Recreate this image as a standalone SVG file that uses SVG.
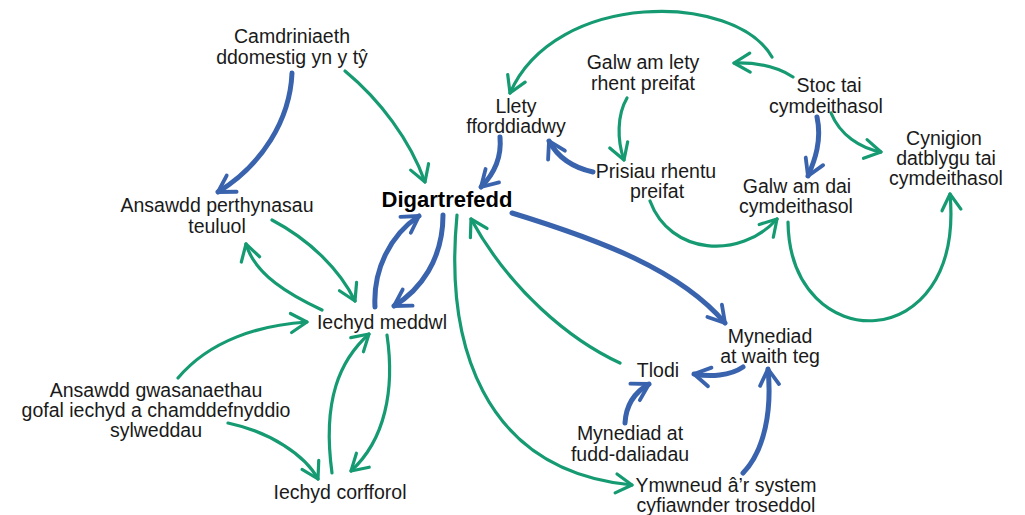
<svg xmlns="http://www.w3.org/2000/svg" width="1025" height="515" viewBox="0 0 1025 515">
<style>
  text { font-family: "Liberation Sans", Arial, sans-serif; font-size: 19.5px; fill: #1a1a1a; text-anchor: middle; }
  .bold { font-weight: bold; font-size: 22px; fill: #000; }
  .g { fill: none; stroke: #159a72; stroke-width: 3.2; stroke-linecap: round; marker-end: url(#ag); }
  .b { fill: none; stroke: #3a63ae; stroke-width: 5; stroke-linecap: round; marker-end: url(#ab); }
</style>
<defs>
  <marker id="ag" markerUnits="userSpaceOnUse" markerWidth="40" markerHeight="40" refX="0" refY="0" viewBox="-20 -20 40 40" orient="auto" overflow="visible">
    <path d="M-16,-9.5 L0,0 L-16,9.5" fill="none" stroke="#159a72" stroke-width="3.2" stroke-linecap="round" stroke-linejoin="round"/>
  </marker>
  <marker id="ab" markerUnits="userSpaceOnUse" markerWidth="40" markerHeight="40" refX="0" refY="0" viewBox="-20 -20 40 40" orient="auto" overflow="visible">
    <path d="M-16,-9.5 L0,0 L-16,9.5" fill="none" stroke="#3a63ae" stroke-width="3.8" stroke-linecap="round" stroke-linejoin="round"/>
  </marker>
</defs>
<rect width="1025" height="515" fill="#fff"/>
<g id="connectors">
  <path class="b" d="M292,73 C290,120 262,165 218,192"/>
  <path class="g" d="M345,71 C380,100 410,140 425,182"/>
  <path class="b" d="M500,137 C502,160 493,175 481,187"/>
  <path class="g" d="M772,57 C735,-8 555,-10 510,93"/>
  <path class="g" d="M793,77 Q770,62 734,63"/>
  <path class="g" d="M627,98 C617,115 617,140 624,160"/>
  <path class="b" d="M593,172 C575,168 558,158 549,141"/>
  <path class="b" d="M817,117 C822,140 815,160 808,176"/>
  <path class="g" d="M831,113 C840,135 860,148 881,152"/>
  <path class="g" d="M650,201 C670,255 740,260 777,219"/>
  <path class="g" d="M788,222 C790,358 965,358 950,194"/>
  <path class="b" d="M512,213 C600,240 680,270 725,323"/>
  <path class="g" d="M620,363 C570,340 510,290 471,219"/>
  <path class="g" d="M457,215 C445,340 480,470 632,485"/>
  <path class="b" d="M743,367 C730,376 710,377 694,374"/>
  <path class="b" d="M625,423 C626,405 635,392 649,384"/>
  <path class="b" d="M743,473 C765,450 772,410 768,369"/>
  <path class="g" d="M272,220 C310,240 340,270 355,301"/>
  <path class="g" d="M322,310 C290,295 255,275 246,244"/>
  <path class="b" d="M375,307 C373,270 390,235 419,216"/>
  <path class="b" d="M443,215 C443,260 420,290 394,306"/>
  <path class="g" d="M178,378 C210,340 260,325 307,322"/>
  <path class="g" d="M228,423 C270,432 305,455 318,479"/>
  <path class="g" d="M332,473 C322,400 340,360 369,334"/>
  <path class="g" d="M387,335 C395,390 385,440 351,471"/>
</g>
<g id="n-camdriniaeth"><text x="292" y="43">Camdriniaeth<tspan x="292" dy="20.5">ddomestig yn y tŷ</tspan></text></g>
<g id="n-ansawdd-perthynasau"><text x="217" y="212">Ansawdd perthynasau<tspan x="217" dy="20.5">teuluol</tspan></text></g>
<g id="n-digartrefedd"><text class="bold" x="447" y="207">Digartrefedd</text></g>
<g id="n-llety"><text x="516" y="113">Llety<tspan x="516" dy="20">fforddiadwy</tspan></text></g>
<g id="n-galw-lety"><text x="643" y="69">Galw am lety<tspan x="643" dy="20.5">rhent preifat</tspan></text></g>
<g id="n-stoc"><text x="829" y="92">Stoc tai<tspan x="826" dy="20.5">cymdeithasol</tspan></text></g>
<g id="n-cynigion"><text x="944" y="145">Cynigion<tspan x="946" dy="20">datblygu tai</tspan><tspan x="946" dy="20">cymdeithasol</tspan></text></g>
<g id="n-prisiau"><text x="656" y="178">Prisiau rhentu<tspan x="657" dy="20">preifat</tspan></text></g>
<g id="n-galw-dai"><text x="797" y="193">Galw am dai<tspan x="796" dy="20">cymdeithasol</tspan></text></g>
<g id="n-iechyd-meddwl"><text x="382" y="329">Iechyd meddwl</text></g>
<g id="n-ansawdd-gwasanaethau"><text x="156" y="397">Ansawdd gwasanaethau<tspan x="156" dy="20">gofal iechyd a chamddefnyddio</tspan><tspan x="156" dy="20">sylweddau</tspan></text></g>
<g id="n-iechyd-corfforol"><text x="340" y="499">Iechyd corfforol</text></g>
<g id="n-mynediad-gwaith"><text x="770" y="343">Mynediad<tspan x="770" dy="20">at waith teg</tspan></text></g>
<g id="n-tlodi"><text x="658" y="377">Tlodi</text></g>
<g id="n-mynediad-budd"><text x="630" y="440">Mynediad at<tspan x="630" dy="20.5">fudd-daliadau</tspan></text></g>
<g id="n-ymwneud"><text x="726" y="492">Ymwneud â’r system<tspan x="726" dy="20">cyfiawnder troseddol</tspan></text></g>
</svg>
